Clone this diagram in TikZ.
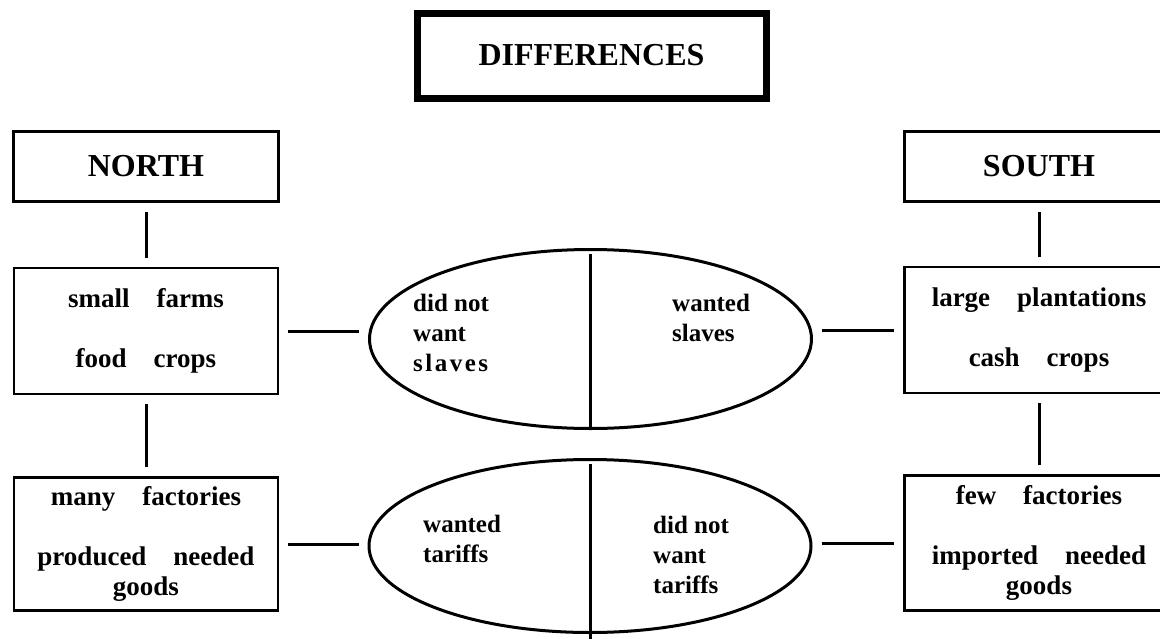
\documentclass[tikz,border=0pt]{standalone}
\usepackage{fontspec}
\setmainfont{Liberation Serif}
\usetikzlibrary{positioning,shapes.geometric}

\begin{document}
\begin{tikzpicture}[
  x=1pt, y=-1pt,
  headstyle/.style={
        draw,
        line width=2.5pt,
        minimum width=265pt,
        minimum height=70pt,
        inner sep=0pt,
        font=\fontsize{32}{38}\selectfont\bfseries
  },
  boxstyle/.style={
        draw,
        line width=2.5pt,
        minimum width=264pt,
        minimum height=126pt,
        inner sep=0pt,
        align=center,
        font=\fontsize{27}{30}\selectfont\bfseries
  },
  ovalstyle/.style={
        draw,
        ellipse,
        line width=3pt,
        minimum width=442pt,
        minimum height=179pt,
        inner sep=0pt
  },
  halfstyle/.style={
        align=left,
        anchor=west,
        inner sep=0pt,
        font=\fontsize{25}{30}\selectfont\bfseries
  },
  linkstyle/.style={
        line width=3pt,
        shorten <=9pt,
        shorten >=9pt
  }
]

    \useasboundingbox (0,0) rectangle (1160,638);
    \clip (0,0) rectangle (1160,638);

    \node[headstyle, line width=7pt, minimum width=349pt, minimum height=85pt] (diff) at (591.5,55.5) {DIFFERENCES};
    \node[headstyle] (north) at (146,166.5) {NORTH};
    \node[headstyle, minimum width=269pt] (south) at (1039,166.5) {SOUTH};

    \node[boxstyle, below=64pt of north] (nfarm) {small\quad farms\\[30pt]food\quad crops};
    \node[boxstyle, minimum height=133pt, below=81pt of nfarm] (nfact) {many\quad factories\\[30pt]produced\quad needed\\goods};
    \node[boxstyle, minimum width=269pt, below=63pt of south] (sfarm) {large\quad plantations\\[30pt]cash\quad crops};
    \node[boxstyle, minimum width=269pt, minimum height=135pt, below=80pt of sfarm] (sfact) {few\quad factories\\[30pt]imported\quad needed\\goods};

    \node[ovalstyle] (slav) at (590.5,339) {};
    \node[ovalstyle, minimum height=173pt] (tarf) at (590,546) {};

    \node[halfstyle] (slavno) at (413,333) {did not\\want\\{\addfontfeature{LetterSpace=10}slaves}};
    \node[halfstyle] (slavyes) at (672,318) {wanted\\slaves};
    \node[halfstyle] (tarfyes) at (423,539) {wanted\\tariffs};
    \node[halfstyle] (tarfno) at (653,555) {did not\\want\\tariffs};

    \draw[line width=3pt, shorten <=6pt] (slav.north) -- (slav.south);
    \draw[line width=3pt, shorten <=6pt, shorten >=-6pt] (tarf.north) -- (tarf.south);

    \draw[linkstyle] (north) -- (nfarm);
    \draw[linkstyle] (nfarm) -- (nfact);
    \draw[linkstyle] (south) -- (sfarm);
    \draw[linkstyle] (sfarm) -- (sfact);

    \draw[linkstyle] (nfarm.east) -- (slav.west |- nfarm.east);
    \draw[linkstyle] (nfact.east) -- (tarf.west |- nfact.east);
    \draw[linkstyle] (slav.east |- sfarm.west) -- (sfarm.west);
    \draw[linkstyle] (tarf.east |- sfact.west) -- (sfact.west);
\end{tikzpicture}
\end{document}
